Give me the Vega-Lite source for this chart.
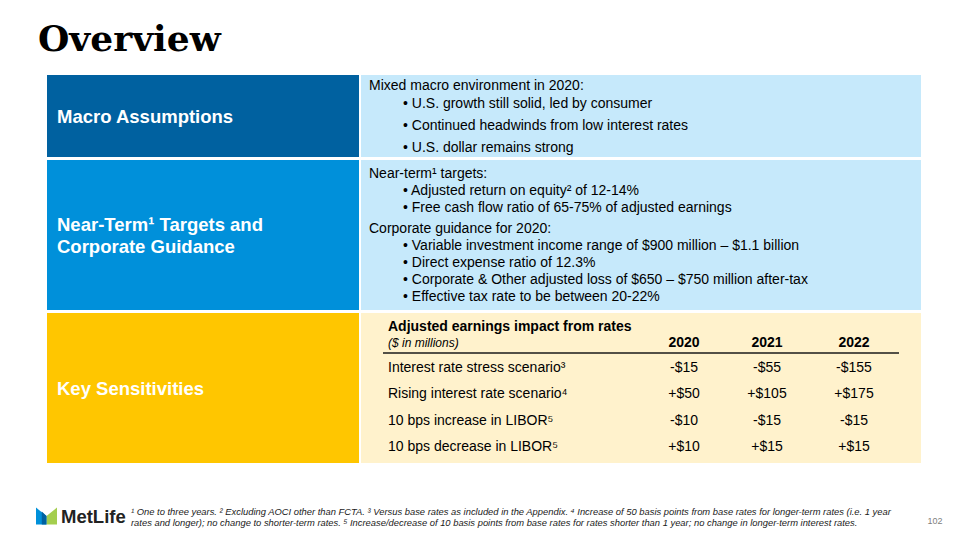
{
  "$schema": "https://vega.github.io/schema/vega-lite/v6.json",
  "width": 960,
  "height": 540,
  "padding": 0,
  "autosize": {"type": "none"},
  "background": "white",
  "config": {"view": {"stroke": null}, "text": {"font": "Liberation Sans"}},
  "datasets": {
    "boxes": [
      {"part": "macroL", "x": 47, "x2": 359, "y": 75, "y2": 157},
      {"part": "macroR", "x": 361, "x2": 921, "y": 75, "y2": 157},
      {"part": "nearL", "x": 47, "x2": 359, "y": 160, "y2": 310},
      {"part": "nearR", "x": 361, "x2": 921, "y": 160, "y2": 310},
      {"part": "keyL", "x": 47, "x2": 359, "y": 313, "y2": 463},
      {"part": "keyR", "x": 361, "x2": 921, "y": 313, "y2": 463}
    ],
    "labels": [
      {"t": "Macro Assumptions", "x": 57, "y": 117},
      {"t": "Near-Term¹ Targets and", "x": 57, "y": 224.5},
      {"t": "Corporate Guidance", "x": 57, "y": 247},
      {"t": "Key Sensitivities", "x": 57, "y": 389}
    ],
    "body": [
      {"t": "Mixed macro environment in 2020:", "x": 369, "y": 86},
      {"t": "• U.S. growth still solid, led by consumer", "x": 403, "y": 104},
      {"t": "• Continued headwinds from low interest rates", "x": 403, "y": 126},
      {"t": "• U.S. dollar remains strong", "x": 403, "y": 148},
      {"t": "Near-term¹ targets:", "x": 369, "y": 174},
      {"t": "• Adjusted return on equity² of 12-14%", "x": 403, "y": 191},
      {"t": "• Free cash flow ratio of 65-75% of adjusted earnings", "x": 403, "y": 208},
      {"t": "Corporate guidance for 2020:", "x": 369, "y": 229},
      {"t": "• Variable investment income range of $900 million – $1.1 billion", "x": 403, "y": 246},
      {"t": "• Direct expense ratio of 12.3%", "x": 403, "y": 263},
      {"t": "• Corporate & Other adjusted loss of $650 – $750 million after-tax", "x": 403, "y": 280},
      {"t": "• Effective tax rate to be between 20-22%", "x": 403, "y": 297},
      {"t": "Interest rate stress scenario³", "x": 388, "y": 368},
      {"t": "Rising interest rate scenario⁴", "x": 388, "y": 394},
      {"t": "10 bps increase in LIBOR⁵", "x": 388, "y": 421},
      {"t": "10 bps decrease in LIBOR⁵", "x": 388, "y": 447}
    ],
    "tableTitle": [
      {"t": "Adjusted earnings impact from rates", "x": 388, "y": 327}
    ],
    "tableUnit": [
      {"t": "($ in millions)", "x": 388, "y": 343}
    ],
    "years": [
      {"t": "2020", "x": 684, "y": 343},
      {"t": "2021", "x": 767, "y": 343},
      {"t": "2022", "x": 854, "y": 343}
    ],
    "rule": [
      {"x": 383, "x2": 899, "y": 353}
    ],
    "cells": [
      {"t": "-$15", "x": 684, "y": 368},
      {"t": "-$55", "x": 767, "y": 368},
      {"t": "-$155", "x": 854, "y": 368},
      {"t": "+$50", "x": 684, "y": 394},
      {"t": "+$105", "x": 767, "y": 394},
      {"t": "+$175", "x": 854, "y": 394},
      {"t": "-$10", "x": 684, "y": 421},
      {"t": "-$15", "x": 767, "y": 421},
      {"t": "-$15", "x": 854, "y": 421},
      {"t": "+$10", "x": 684, "y": 447},
      {"t": "+$15", "x": 767, "y": 447},
      {"t": "+$15", "x": 854, "y": 447}
    ],
    "footnotes": [
      {"t": "¹ One to three years. ² Excluding AOCI other than FCTA. ³ Versus base rates as included in the Appendix. ⁴ Increase of 50 basis points from base rates for longer-term rates (i.e. 1 year", "x": 131, "y": 512},
      {"t": "rates and longer); no change to shorter-term rates. ⁵ Increase/decrease of 10 basis points from base rates for rates shorter than 1 year; no change in longer-term interest rates.", "x": 131, "y": 523}
    ],
    "title": [
      {"t": "Overview", "x": 38, "y": 40}
    ],
    "brand": [
      {"t": "MetLife", "x": 61, "y": 517}
    ],
    "logo": [
      {"x": 46.5, "y": 516}
    ],
    "page": [
      {"t": "102", "x": 935, "y": 521}
    ]
  },
  "encoding": {
    "x": {"field": "x", "type": "quantitative", "scale": {"domain": [0, 960], "nice": false, "zero": false}, "axis": null},
    "y": {"field": "y", "type": "quantitative", "scale": {"domain": [0, 540], "nice": false, "zero": false, "reverse": true}, "axis": null}
  },
  "layer": [
    {
      "data": {"name": "boxes"},
      "mark": {"type": "rect"},
      "encoding": {
        "x2": {"field": "x2"},
        "y2": {"field": "y2"},
        "color": {
          "field": "part", "type": "nominal", "legend": null,
          "scale": {
            "domain": ["macroL", "macroR", "nearL", "nearR", "keyL", "keyR"],
            "range": ["#0061A0", "#C6E9FB", "#0090DA", "#C6E9FB", "#FFC600", "#FFF2CC"]
          }
        }
      }
    },
    {
      "data": {"name": "labels"},
      "mark": {"type": "text", "align": "left", "baseline": "middle", "fontSize": 18.5, "fontWeight": "bold", "color": "white"},
      "encoding": {"text": {"field": "t"}}
    },
    {
      "data": {"name": "body"},
      "mark": {"type": "text", "align": "left", "baseline": "middle", "fontSize": 14, "color": "black"},
      "encoding": {"text": {"field": "t"}}
    },
    {
      "data": {"name": "tableTitle"},
      "mark": {"type": "text", "align": "left", "baseline": "middle", "fontSize": 14, "fontWeight": "bold", "color": "black"},
      "encoding": {"text": {"field": "t"}}
    },
    {
      "data": {"name": "tableUnit"},
      "mark": {"type": "text", "align": "left", "baseline": "middle", "fontSize": 12, "fontStyle": "italic", "color": "black"},
      "encoding": {"text": {"field": "t"}}
    },
    {
      "data": {"name": "years"},
      "mark": {"type": "text", "align": "center", "baseline": "middle", "fontSize": 14, "fontWeight": "bold", "color": "black"},
      "encoding": {"text": {"field": "t"}}
    },
    {
      "data": {"name": "rule"},
      "mark": {"type": "rule", "stroke": "#1a1a1a", "strokeWidth": 1.5},
      "encoding": {"x2": {"field": "x2"}}
    },
    {
      "data": {"name": "cells"},
      "mark": {"type": "text", "align": "center", "baseline": "middle", "fontSize": 14, "color": "black"},
      "encoding": {"text": {"field": "t"}}
    },
    {
      "data": {"name": "footnotes"},
      "mark": {"type": "text", "align": "left", "baseline": "middle", "fontSize": 9.4, "fontStyle": "italic", "color": "#1a1a1a"},
      "encoding": {"text": {"field": "t"}}
    },
    {
      "data": {"name": "title"},
      "mark": {"type": "text", "align": "left", "baseline": "middle", "fontSize": 36, "fontWeight": "bold", "font": "DejaVu Serif", "color": "black"},
      "encoding": {"text": {"field": "t"}}
    },
    {
      "data": {"name": "brand"},
      "mark": {"type": "text", "align": "left", "baseline": "middle", "fontSize": 18.5, "fontWeight": "bold", "color": "#222222"},
      "encoding": {"text": {"field": "t"}}
    },
    {
      "data": {"name": "logo"},
      "mark": {"type": "point", "filled": true, "opacity": 1, "size": 441, "color": "#0090DA", "shape": "M -1 -0.8 L 0 0 L 0 0.8 L -1 0.8 Z"},
      "encoding": {}
    },
    {
      "data": {"name": "logo"},
      "mark": {"type": "point", "filled": true, "opacity": 1, "size": 441, "color": "#A4CE4E", "shape": "M 1 -0.8 L 0 0 L 0 0.8 L 1 0.8 Z"},
      "encoding": {}
    },
    {
      "data": {"name": "logo"},
      "mark": {"type": "point", "filled": true, "opacity": 1, "size": 441, "color": "#0061A0", "shape": "M -0.45 -0.44 L 0 0 L 0 0.8 L -0.45 0.8 Z"},
      "encoding": {}
    },
    {
      "data": {"name": "page"},
      "mark": {"type": "text", "align": "center", "baseline": "middle", "fontSize": 9, "color": "#808080"},
      "encoding": {"text": {"field": "t"}}
    }
  ]
}
